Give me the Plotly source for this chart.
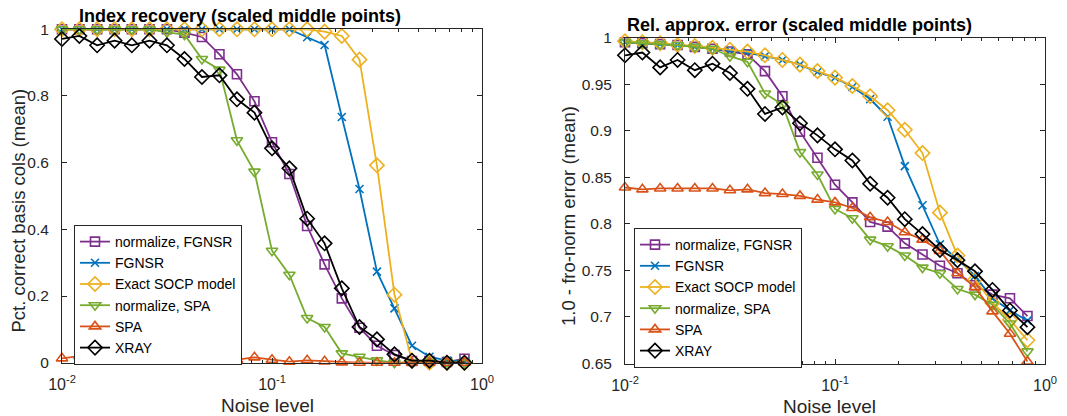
import plotly.graph_objects as go

W, H = 1067, 416

NOISE = [0.01, 0.0121, 0.0147, 0.0178, 0.0215, 0.0261, 0.0316, 0.0383, 0.0464, 0.0562,
         0.0681, 0.0825, 0.1, 0.121, 0.147, 0.178, 0.215, 0.261, 0.316, 0.383,
         0.464, 0.562, 0.681, 0.825]

SERIES = ["normalize, FGNSR", "FGNSR", "Exact SOCP model", "normalize, SPA", "SPA", "XRAY"]

# Index recovery (left)
idx_norm_fgnsr = [1, 1, 1, 1, 1, 1, 1, 0.99, 0.977, 0.925, 0.865, 0.784, 0.661, 0.566,
                  0.41, 0.295, 0.193, 0.105, 0.051, 0.023, 0.005, 0.005, 0.002, 0.012]
idx_fgnsr = [1, 1, 1, 1, 1, 1, 1, 1, 1, 1, 1, 1, 1, 1,
             0.976, 0.953, 0.737, 0.521, 0.273, 0.163, 0.051, 0.018, 0.006, 0.004]
idx_socp = [1, 1, 1, 1, 1, 1, 1, 1, 1, 1, 1, 1, 1, 1, 1,
            0.993, 0.98, 0.909, 0.592, 0.204, 0.006, 0, 0, 0]
idx_norm_spa = [1, 1, 1, 1, 1, 1, 0.991, 0.984, 0.911, 0.879, 0.667, 0.573, 0.336, 0.264,
                0.134, 0.107, 0.028, 0.018, 0.007, 0, 0, 0.003, 0.002, 0]
idx_spa = [0.013, 0.02, 0.017, 0.003, 0.003, 0.003, 0.012, 0.009, 0.014, 0.003, 0.009, 0.016,
           0.009, 0.003, 0.007, 0.004, 0.001, 0, 0, 0, 0, 0, 0, 0]
idx_xray = [0.971, 0.98, 0.952, 0.966, 0.952, 0.966, 0.952, 0.911, 0.857, 0.862, 0.79, 0.75,
            0.643, 0.583, 0.432, 0.358, 0.223, 0.107, 0.07, 0.025, 0.006, 0.006, 0, 0]

# Relative approximation error (right)
err_norm_fgnsr = [0.995, 0.994, 0.993, 0.992, 0.99, 0.988, 0.985, 0.982, 0.964, 0.937, 0.899, 0.871,
                  0.842, 0.823, 0.802, 0.797, 0.779, 0.767, 0.755, 0.747, 0.734, 0.724, 0.72, 0.701]
err_fgnsr = [0.995, 0.994, 0.993, 0.992, 0.99, 0.988, 0.986, 0.984, 0.98, 0.976, 0.971, 0.963,
             0.957, 0.947, 0.934, 0.915, 0.862, 0.82, 0.778, 0.762, 0.744, 0.72, 0.707, 0.696]
err_socp = [0.996, 0.995, 0.994, 0.992, 0.991, 0.989, 0.987, 0.985, 0.981, 0.976, 0.971, 0.964,
            0.957, 0.948, 0.937, 0.922, 0.901, 0.876, 0.812, 0.766, 0.74, 0.715, 0.697, 0.675]
err_norm_spa = [0.995, 0.994, 0.993, 0.992, 0.99, 0.988, 0.98, 0.974, 0.94, 0.928, 0.877, 0.853,
                0.816, 0.806, 0.783, 0.776, 0.766, 0.753, 0.747, 0.73, 0.724, 0.713, 0.693, 0.663]
err_spa = [0.839, 0.837, 0.838, 0.838, 0.838, 0.838, 0.836, 0.837, 0.833, 0.832, 0.83, 0.826,
           0.823, 0.817, 0.807, 0.802, 0.791, 0.783, 0.771, 0.747, 0.732, 0.706, 0.682, 0.652]
err_xray = [0.981, 0.984, 0.968, 0.976, 0.965, 0.972, 0.962, 0.945, 0.918, 0.925, 0.908, 0.895,
            0.88, 0.868, 0.843, 0.828, 0.805, 0.789, 0.772, 0.761, 0.749, 0.729, 0.707, 0.689]

LEFT = [idx_norm_fgnsr, idx_fgnsr, idx_socp, idx_norm_spa, idx_spa, idx_xray]
RIGHT = [err_norm_fgnsr, err_fgnsr, err_socp, err_norm_spa, err_spa, err_xray]

COLORS = ["#7E2F8E", "#0072BD", "#EDB120", "#77AC30", "#D95319", "#000000"]
SYMBOLS = ["square-open", "x-thin-open", "diamond-open", "triangle-down-open", "triangle-up-open", "diamond-open"]
SIZES = [9, 8, 11, 10, 10, 11]

XTICKS = [0.01, 0.1, 1]
XTICKTEXT = ["10<sup>-2</sup>", "10<sup>-1</sup>", "10<sup>0</sup>"]
LTICKS = [0, 0.2, 0.4, 0.6, 0.8, 1]
LTICKTEXT = ["0", "0.2", "0.4", "0.6", "0.8", "1"]
RTICKS = [0.65, 0.7, 0.75, 0.8, 0.85, 0.9, 0.95, 1]
RTICKTEXT = ["0.65", "0.7", "0.75", "0.8", "0.85", "0.9", "0.95", "1"]

FONT = "Liberation Sans, Arial, Helvetica, sans-serif"
AX = "#262626"

fig = go.Figure()
for i, name in enumerate(SERIES):
    for data, xa, ya, lg in [(LEFT[i], "x", "y", "legend"), (RIGHT[i], "x2", "y2", "legend2")]:
        fig.add_trace(go.Scatter(
            x=NOISE, y=data, name=name, xaxis=xa, yaxis=ya, legend=lg,
            mode="lines+markers", cliponaxis=False,
            line=dict(color=COLORS[i], width=1.8),
            marker=dict(symbol=SYMBOLS[i], size=SIZES[i], color=COLORS[i],
                        line=dict(color=COLORS[i], width=1.6)),
        ))

def px(x):
    return x / W

def py(y):
    return 1 - y / H

xcommon = dict(type="log", range=[-2, 0], tickmode="array", tickvals=XTICKS, ticktext=XTICKTEXT,
               ticks="inside", ticklen=5, tickcolor=AX, showline=True, linecolor=AX, linewidth=1,
               mirror="ticks", showgrid=False, zeroline=False, ticklabelstandoff=7, automargin=False,
               tickfont=dict(size=16, color=AX, family=FONT),
               minor=dict(ticks="inside", ticklen=3, tickcolor=AX, dtick="D1", showgrid=False))
ycommon = dict(ticks="inside", ticklen=5, tickcolor=AX, showline=True, linecolor=AX, linewidth=1,
               mirror="ticks", showgrid=False, zeroline=False, tickmode="array", ticklabelstandoff=9,
               automargin=False, tickfont=dict(size=15.5, color=AX, family=FONT))

LEGFONT = dict(size=14, color="black", family=FONT)

fig.update_layout(
    width=W, height=H, margin=dict(l=0, r=0, t=0, b=0, pad=0, autoexpand=False),
    paper_bgcolor="white", plot_bgcolor="white",
    font=dict(family=FONT, color=AX),
    xaxis=dict(domain=[px(62), px(482)], anchor="y", **xcommon),
    yaxis=dict(domain=[py(362.7), py(29.3)], anchor="x", range=[0, 1],
               tickvals=LTICKS, ticktext=LTICKTEXT, **ycommon),
    xaxis2=dict(domain=[px(625), px(1045)], anchor="y2", **xcommon),
    yaxis2=dict(domain=[py(363.5), py(37.6)], anchor="x2", range=[0.65, 1],
                tickvals=RTICKS, ticktext=RTICKTEXT, **ycommon),
    legend=dict(x=px(74), y=py(225), xanchor="left", yanchor="top", bgcolor="white",
                bordercolor=AX, borderwidth=1, font=LEGFONT, itemwidth=30, tracegroupgap=0),
    legend2=dict(x=px(634), y=py(228), xanchor="left", yanchor="top", bgcolor="white",
                 bordercolor=AX, borderwidth=1, font=LEGFONT, itemwidth=30, tracegroupgap=0),
    showlegend=True,
)

ann = []
ann.append(dict(text="<b>Index recovery (scaled middle points)</b>", x=px(77), y=py(15.5),
                xanchor="left", yanchor="middle", font=dict(size=18, color="black")))
ann.append(dict(text="<b>Rel. approx. error (scaled middle points)</b>", x=px(625), y=py(25),
                xanchor="left", yanchor="middle", font=dict(size=18, color="black")))
ann.append(dict(text="Noise level", x=px(267.5), y=py(405.5), xanchor="center", yanchor="middle",
                font=dict(size=19, color=AX)))
ann.append(dict(text="Noise level", x=px(829), y=py(406.5), xanchor="center", yanchor="middle",
                font=dict(size=19, color=AX)))
ann.append(dict(text="Pct. correct basis cols (mean)", x=px(17.5), y=py(211), textangle=-90,
                xanchor="center", yanchor="middle", font=dict(size=18.5, color=AX)))
ann.append(dict(text="1.0 - fro-norm error (mean)", x=px(568), y=py(216), textangle=-90,
                xanchor="center", yanchor="middle", font=dict(size=18.5, color=AX)))
for a in ann:
    a.update(xref="paper", yref="paper", showarrow=False)
fig.update_layout(annotations=ann)

fig.write_html("out.html", config={"displayModeBar": False},
               post_script="document.body.style.margin='0';document.body.style.overflow='hidden';")
